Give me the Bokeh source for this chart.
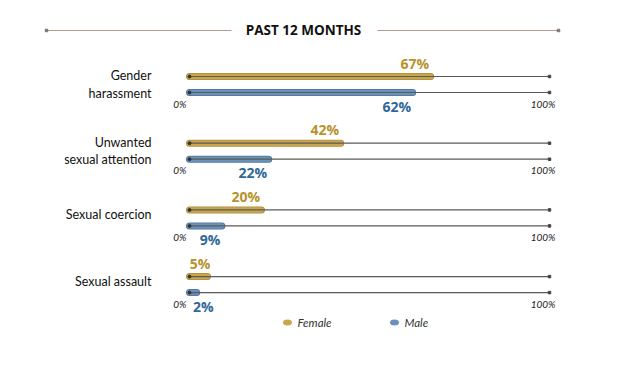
from bokeh.plotting import figure
from bokeh.models import Range1d, ColumnDataSource
from bokeh.core.properties import value
from bokeh.embed import file_html
from bokeh.resources import INLINE

# ---- data ----
categories = ["Gender\nharassment", "Unwanted\nsexual attention", "Sexual coercion", "Sexual assault"]
female = [67, 42, 20, 5]
male = [62, 22, 9, 2]
title = "PAST 12 MONTHS"
series_names = ["Female", "Male"]
tick_min_label = "0%"
tick_max_label = "100%"

# ---- layout ----
W, H = 618, 351
PX_PER_PCT = 3.6
X0 = 189  # px of 0%
UNIT = 66.7  # px per group
Y0 = 84  # px of group 0 center

def xd(img_px):
    return (img_px - X0) / PX_PER_PCT

def yd(img_py):
    return (img_py - Y0) / UNIT

p = figure(width=W, height=H, output_backend="svg", toolbar_location=None,
           x_range=Range1d(-X0 / PX_PER_PCT, (W - X0) / PX_PER_PCT),
           y_range=Range1d((H - Y0) / UNIT, -Y0 / UNIT),
           min_border=0)
p.axis.visible = False
p.grid.visible = False
p.outline_line_color = None
p.background_fill_color = "white"

GOLD = "#C9A64E"
GOLD_D = "#AD8E38"
GOLD_T = "#B8922A"
BLUE = "#6A92B8"
BLUE_D = "#4C739A"
BLUE_T = "#2F6898"
TRACK = "#5a5a5a"

off = 8 / UNIT
n = len(categories)
gy = list(range(n))
fy = [g - off for g in gy]
my = [g + off for g in gy]

for vals, ys, col, dcol in [(female, fy, GOLD, GOLD_D), (male, my, BLUE, BLUE_D)]:
    src = ColumnDataSource(dict(x0=[0] * n, x1=vals, y=ys, end=[100] * n))
    p.segment("x0", "y", "x1", "y", source=src, line_width=7, line_color=dcol, line_cap="round")
    p.segment("x0", "y", "x1", "y", source=src, line_width=5.5, line_color=col, line_cap="round")
    p.segment("x0", "y", "end", "y", source=src, line_width=1.2, line_color=TRACK)
    p.scatter("x0", "y", source=src, size=3, color="#333333", marker="circle")
    p.scatter("end", "y", source=src, size=2.5, color="#444444", marker="square")

# value labels
pct_font = value("Open Sans")
p.text(x=[max(v, 6.2) for v in female], y=fy, text=[f"{v}%" for v in female],
       text_align="right", text_baseline="bottom", y_offset=-4, x_offset=-1.5,
       text_font=pct_font, text_font_style="bold", text_font_size="14px", text_color=GOLD_T)
p.text(x=[max(v, 7.1) for v in male], y=my, text=[f"{v}%" for v in male],
       text_align="right", text_baseline="top", y_offset=4, x_offset=-1.5,
       text_font=pct_font, text_font_style="bold", text_font_size="14px", text_color=BLUE_T)

# axis end labels
p.text(x=[0] * n, y=my, text=[tick_min_label] * n, text_align="right", text_baseline="middle",
       x_offset=-3, y_offset=11, text_font=value("Lato"), text_font_style="italic",
       text_font_size="10px", text_color="#222222")
p.text(x=[100] * n, y=my, text=[tick_max_label] * n, text_align="right", text_baseline="middle",
       x_offset=6, y_offset=11, text_font=value("Lato"), text_font_style="italic",
       text_font_size="10px", text_color="#222222")

# category labels
cat_y = [g if "\n" in c else g - 3 / UNIT for g, c in zip(gy, categories)]
p.text(x=[xd(151)] * n, y=cat_y, text=categories, text_align="right", text_baseline="middle",
       text_font=value("Lato"), text_font_size="12.5px", text_color="#111111",
       text_line_height=1.15)

# title with rules
p.text(x=[xd(303)], y=[yd(29)], text=[title], text_align="center", text_baseline="middle",
       text_font=value("Open Sans"), text_font_style="bold", text_font_size="13.5px",
       text_color="#111111")
p.segment(x0=[xd(46), xd(377)], y0=[yd(30)] * 2, x1=[xd(231), xd(558)], y1=[yd(30)] * 2,
          line_color="#B49A90", line_width=1.2)
p.scatter(x=[xd(46), xd(558)], y=[yd(30)] * 2, size=2.5, color="#777777", marker="square")

# legend
leg_x = [xd(287), xd(394)]
leg_y = [yd(322)] * 2
p.ellipse(x=leg_x, y=leg_y, width=9, height=6, width_units="screen", height_units="screen",
          fill_color=[GOLD, BLUE], line_color=None)
p.text(x=leg_x, y=leg_y, text=series_names, x_offset=10, text_baseline="middle",
       text_font=value("Lato"), text_font_style="italic", text_font_size="11.5px",
       text_color="#333333")

open("out.html", "w").write(file_html(p, INLINE))
